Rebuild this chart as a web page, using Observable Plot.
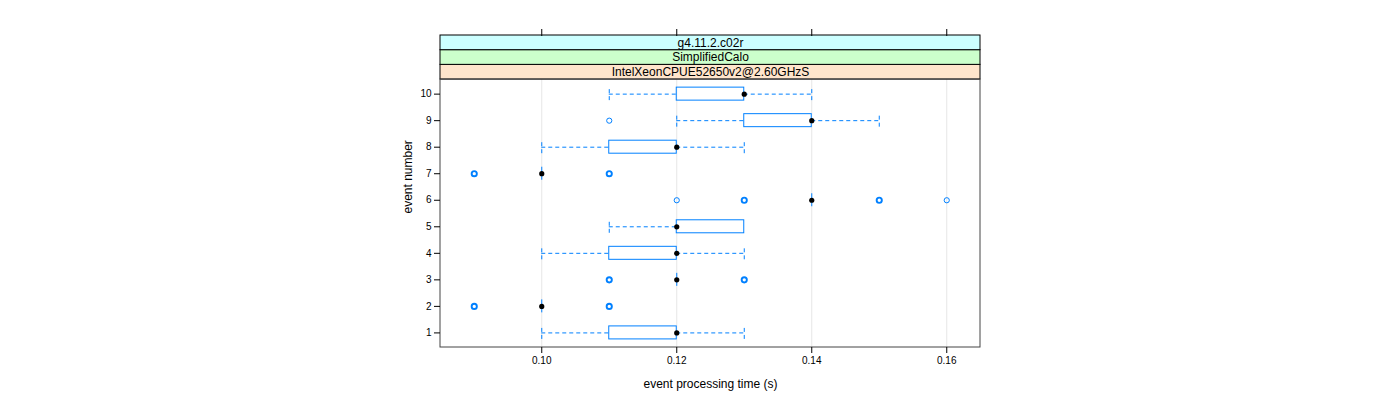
<!DOCTYPE html>
<html><head><meta charset="utf-8">
<script src="https://cdn.jsdelivr.net/npm/d3@7"></script>
<script src="https://cdn.jsdelivr.net/npm/@observablehq/plot@0.6"></script>
<style>body{margin:0;background:#fff;font-family:"Liberation Sans",Arial,sans-serif}</style>
</head><body><div id="chart"></div>
<script>
// ---- data ----
const events     = [1, 2, 3, 4, 5, 6, 7, 8, 9, 10];
const whiskerLo  = [0.10, 0.10, 0.12, 0.10, 0.11, 0.14, 0.10, 0.10, 0.12, 0.11];
const q1         = [0.11, 0.10, 0.12, 0.11, 0.12, 0.14, 0.10, 0.11, 0.13, 0.12];
const median     = [0.12, 0.10, 0.12, 0.12, 0.12, 0.14, 0.10, 0.12, 0.14, 0.13];
const q3         = [0.12, 0.10, 0.12, 0.12, 0.13, 0.14, 0.10, 0.12, 0.14, 0.13];
const whiskerHi  = [0.13, 0.10, 0.12, 0.13, 0.13, 0.14, 0.10, 0.13, 0.15, 0.14];
const outlierEvent = [2, 2, 3, 3, 6, 6, 6, 6, 7, 7, 9];
const outlierValue = [0.09, 0.11, 0.11, 0.13, 0.12, 0.13, 0.15, 0.16, 0.09, 0.11, 0.11];
const outlierCount = [3, 3, 3, 3, 1, 2, 2, 1, 3, 3, 1];
const xTicks = [0.10, 0.12, 0.14, 0.16];
const stripLabels = ["IntelXeonCPUE52650v2@2.60GHzS", "SimplifiedCalo", "g4.11.2.c02r"];
const stripColors = ["#ffe5cc", "#ccffcc", "#ccffff"];
const xLabel = "event processing time (s)";
const yLabel = "event number";

// ---- layout constants ----
const xDomain = [0.085, 0.165];
const panelY = [0.45, 10.55];
const yTop = 12.21;
const stripStep = (yTop - panelY[1]) / 3;
const boxHalf = 0.245;
const blue = "#0080ff";

const rows = events.map((e, i) => ({e, lo: whiskerLo[i], q1: q1[i], med: median[i], q3: q3[i], hi: whiskerHi[i]}));
const outliers = outlierEvent.map((e, i) => ({e, v: outlierValue[i], n: outlierCount[i]}));
const strips = stripLabels.map((t, i) => ({t, c: stripColors[i], y1: panelY[1] + i * stripStep, y2: panelY[1] + (i + 1) * stripStep}));

const chart = Plot.plot({
  width: 1400, height: 400,
  marginLeft: 440, marginRight: 420, marginTop: 35, marginBottom: 53,
  style: {fontFamily: "'Liberation Sans', Arial, sans-serif", fontSize: "10px", background: "#fff"},
  x: {domain: xDomain},
  y: {domain: [panelY[0], yTop]},
  marks: [
    Plot.ruleX(xTicks, {x: d => d, y1: panelY[0], y2: panelY[1], stroke: "#e6e6e6"}),
    Plot.rect(strips, {x1: xDomain[0], x2: xDomain[1], y1: "y1", y2: "y2", fill: "c", stroke: "#000", strokeWidth: 1}),
    Plot.text(strips, {x: (xDomain[0] + xDomain[1]) / 2, y: d => (d.y1 + d.y2) / 2, text: "t", fontSize: 12, fill: "#000"}),
    Plot.rect([0], {x1: xDomain[0], x2: xDomain[1], y1: panelY[0], y2: panelY[1], fill: "none", stroke: "#444"}),
    // whiskers
    Plot.ruleY(rows.filter(d => d.lo < d.q1), {y: "e", x1: "lo", x2: "q1", stroke: blue, strokeDasharray: "4,3"}),
    Plot.ruleY(rows.filter(d => d.hi > d.q3), {y: "e", x1: "q3", x2: "hi", stroke: blue, strokeDasharray: "4,3"}),
    Plot.ruleX(rows.filter(d => d.lo < d.q1), {x: "lo", y1: d => d.e - boxHalf, y2: d => d.e + boxHalf, stroke: blue, strokeDasharray: "4,3"}),
    Plot.ruleX(rows.filter(d => d.hi > d.q3), {x: "hi", y1: d => d.e - boxHalf, y2: d => d.e + boxHalf, stroke: blue, strokeDasharray: "4,3"}),
    // boxes
    Plot.rect(rows.filter(d => d.q3 > d.q1), {x1: "q1", x2: "q3", y1: d => d.e - boxHalf, y2: d => d.e + boxHalf, fill: "none", stroke: blue}),
    Plot.ruleX(rows.filter(d => d.q3 === d.q1), {x: "q1", y1: d => d.e - boxHalf, y2: d => d.e + boxHalf, stroke: blue}),
    // outliers
    Plot.dot(outliers, {x: "v", y: "e", r: 2.6, stroke: blue, fill: "none", strokeWidth: d => d.n > 1 ? 1.9 : 1}),
    // medians
    Plot.dot(rows, {x: "med", y: "e", r: 2.6, fill: "#000", stroke: "none"}),
    // axes
    Plot.axisX({anchor: "bottom", ticks: xTicks, tickFormat: d3.format(".2f"), tickSize: 6, label: null, fontSize: 10}),
    Plot.axisX({anchor: "top", ticks: xTicks, tickFormat: () => "", tickSize: 7, label: null}),
    Plot.axisY({anchor: "left", ticks: events, tickFormat: d => String(d), tickSize: 6, label: null, fontSize: 10}),
    Plot.text([xLabel], {frameAnchor: "bottom", lineAnchor: "middle", dy: 37, text: d => d, fontSize: 12, fill: "#000"}),
    Plot.text([yLabel], {y: (panelY[0] + panelY[1]) / 2, frameAnchor: "left", dx: -32, rotate: -90, text: d => d, fontSize: 12, fill: "#000"})
  ]
});
document.getElementById("chart").appendChild(chart);
</script>
</body></html>
